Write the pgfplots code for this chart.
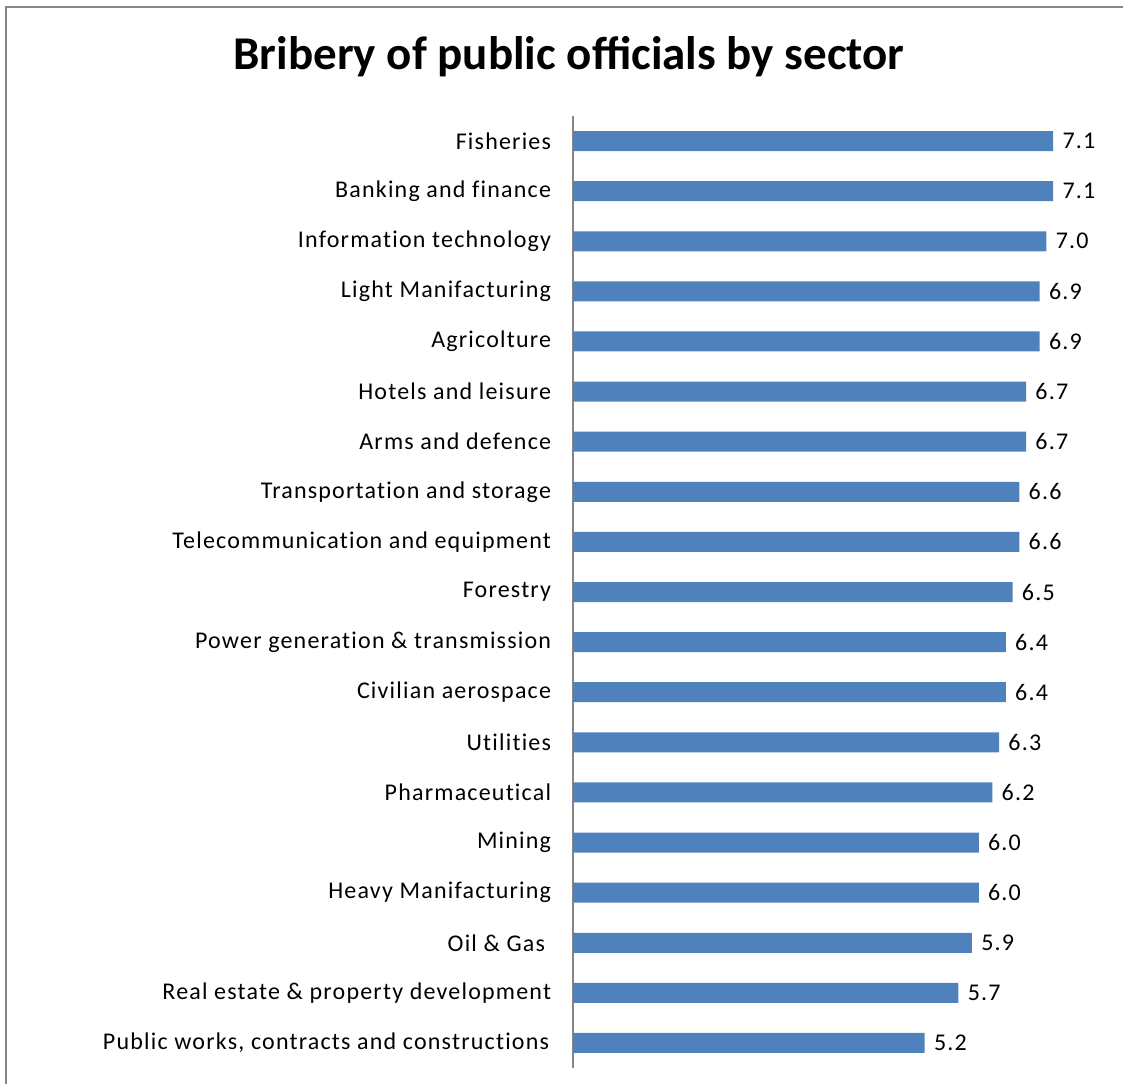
\documentclass[border=0pt]{standalone}
\usepackage{pgfplots}
\pgfplotsset{compat=1.18}
\usepackage{fontspec}
\setmainfont{Carlito}
\newfontfamily\lblfont[LetterSpace=5,Ligatures=NoCommon]{Carlito}
\definecolor{barblue}{HTML}{4F81BD}
\definecolor{framegray}{HTML}{868686}
\begin{document}
\begin{tikzpicture}
\useasboundingbox (0,0) rectangle (561.5pt,542pt);
\draw[framegray, line width=0.9pt] (3pt,0) -- (3pt,538.5pt) -- (562pt,538.5pt);
\node[anchor=base, font=\fontsize{23.5}{27}\selectfont\bfseries] at (284.5pt,507pt) {Bribery of public officials by sector};
\begin{axis}[
  at={(286.5pt,8pt)}, anchor=south west,
  scale only axis, width=270.5pt, height=476pt,
  xbar, bar width=10pt,
  xmin=0, xmax=8,
  ymin=-0.5, ymax=18.5, y dir=reverse,
  ytick={0,...,18},
  yticklabels={Fisheries, Banking and finance, Information technology, Light Manifacturing, Agricolture, Hotels and leisure, Arms and defence, Transportation and storage, Telecommunication and equipment, Forestry, Power generation \& transmission, Civilian aerospace, Utilities, Pharmaceutical, Mining, Heavy Manifacturing, {Oil \& Gas\hspace*{3pt}}, Real estate \& property development, {Public works, contracts and constructions\hspace*{1pt}}},
  yticklabel style={anchor=east, inner sep=0pt, xshift=-6.5pt, font=\lblfont\fontsize{12}{14}\selectfont},
  ytick style={draw=none},
  xtick=\empty,
  axis x line=none,
  axis y line*=left,
  y axis line style={-, draw=framegray, line width=0.9pt},
  point meta=x,
  /pgf/number format/assume math mode=true,
  nodes near coords={\pgfmathprintnumber[fixed,fixed zerofill,precision=1,assume math mode=true]{\pgfplotspointmeta}},
  nodes near coords style={anchor=west, inner sep=0pt, xshift=4.5pt, font=\lblfont\fontsize{12}{14}\selectfont},
  clip=false,
]
\addplot[fill=barblue, draw=none] coordinates {
(7.1,0) (7.1,1) (7.0,2) (6.9,3) (6.9,4) (6.7,5) (6.7,6) (6.6,7) (6.6,8) (6.5,9)
(6.4,10) (6.4,11) (6.3,12) (6.2,13) (6.0,14) (6.0,15) (5.9,16) (5.7,17) (5.2,18)
};
\end{axis}
\end{tikzpicture}
\end{document}
